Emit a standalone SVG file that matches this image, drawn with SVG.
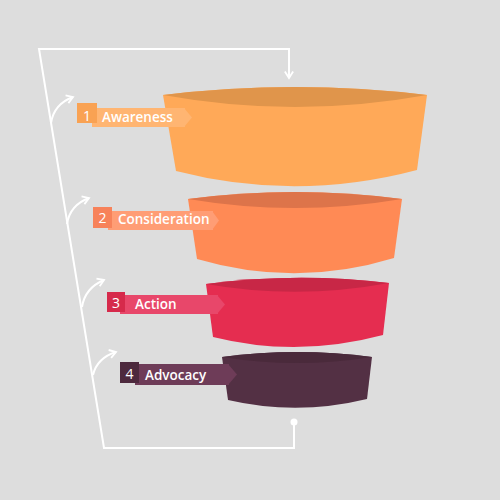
<svg xmlns="http://www.w3.org/2000/svg" width="500" height="500" viewBox="0 0 500 500">
<defs>
<marker id="arrc" viewBox="0 0 12 12" refX="10" refY="6" markerWidth="11" markerHeight="11" orient="auto" markerUnits="userSpaceOnUse">
<path d="M3,1.5 L10,6 L3,10.5" fill="none" stroke="#fff" stroke-width="2"/>
</marker>
</defs>
<style>
.ln{fill:none;stroke:#fff;stroke-width:2}
.lbl{font-family:"Open Sans","DejaVu Sans",sans-serif;font-size:13.5px;font-weight:600;fill:#fff}
.num{font-family:"Open Sans","DejaVu Sans",sans-serif;font-size:14px;font-weight:400;fill:#fff}
</style>
<rect width="500" height="500" fill="#dddddd"/>
<g id="connectors">
<path class="ln" d="M294,422 V448 H104 L39,49 H289 V78" marker-end="url(#arrc)"/>
<circle cx="294" cy="422" r="3.5" fill="#fff"/>
<path class="ln" d="M51,123 Q54,104 73,97" marker-end="url(#arrc)"/>
<path class="ln" d="M67,224 Q70,205 89,198" marker-end="url(#arrc)"/>
<path class="ln" d="M82,307 Q85,288 104,280" marker-end="url(#arrc)"/>
<path class="ln" d="M93,375 Q97,358 116,352" marker-end="url(#arrc)"/>
</g>
<g id="stage1">
<path d="M163,95 Q295,79 427,95 L417,170 Q296,202 176,171 Z" fill="#ffa958"/>
<path d="M163,95 Q295,79 427,95 Q295,119 163,95 Z" fill="#e0954b"/>
<rect x="92" y="108" width="93" height="19" fill="#ffb572"/>
<path d="M184,108 L192,117.5 L184,127 Z" fill="#ffb572"/>
<rect x="77" y="103" width="20" height="20" fill="#f9a253"/>
<text class="num" x="87" y="121" text-anchor="middle">1</text>
<text class="lbl" x="102" y="121.5">Awareness</text>
</g>
<g id="stage2">
<path d="M188,199 Q295,185 402,199 L394,258 Q296,288 197,259 Z" fill="#ff8a55"/>
<path d="M188,199 Q295,185 402,199 Q295,217 188,199 Z" fill="#dd744a"/>
<rect x="108" y="211" width="105" height="19" fill="#ff9d75"/>
<path d="M212,211 L219,220.5 L212,230 Z" fill="#ff9d75"/>
<rect x="93" y="207" width="19" height="21" fill="#f7825a"/>
<text class="num" x="102.5" y="223" text-anchor="middle">2</text>
<text class="lbl" x="118" y="224">Consideration</text>
</g>
<g id="stage3">
<path d="M206,284 Q297,272 389,283 L383,335 Q297,358 213,337 Z" fill="#e52d50"/>
<path d="M206,284 Q297,272 389,283 Q297,300 206,284 Z" fill="#c82746"/>
<rect x="120" y="295" width="98" height="19" fill="#e8476a"/>
<path d="M217,295 L225,304.5 L217,314 Z" fill="#e8476a"/>
<rect x="107" y="292" width="18" height="20" fill="#d62a4b"/>
<text class="num" x="116" y="308" text-anchor="middle">3</text>
<text class="lbl" x="135" y="309">Action</text>
</g>
<g id="stage4">
<path d="M222,357 Q297,347 372,357 L367,399 Q297,416 228,400 Z" fill="#533044"/>
<path d="M222,357 Q297,347 372,357 Q297,369 222,357 Z" fill="#4a2a3b"/>
<rect x="135" y="364" width="94" height="21" fill="#6e3c58"/>
<path d="M228,364 L237,374.5 L228,385 Z" fill="#6e3c58"/>
<rect x="120" y="362" width="19" height="21" fill="#4d293d"/>
<text class="num" x="129.5" y="379" text-anchor="middle">4</text>
<text class="lbl" x="145" y="380">Advocacy</text>
</g>
</svg>
